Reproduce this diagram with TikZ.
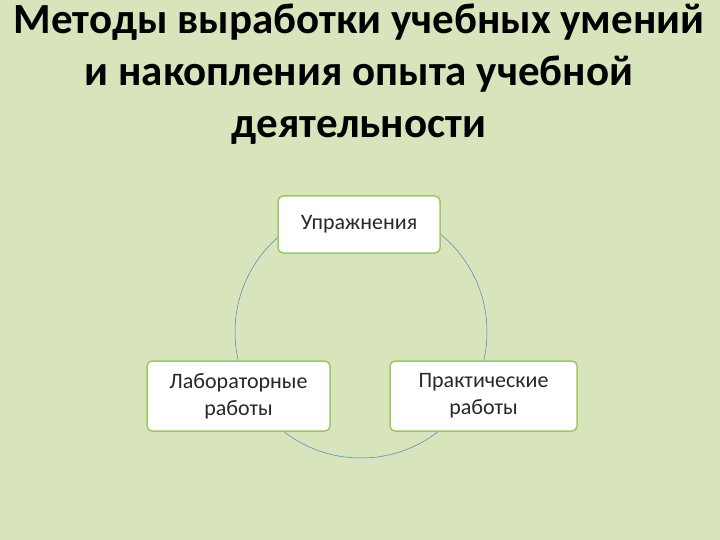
\documentclass[tikz,border=0pt]{standalone}
\usepackage{fontspec}
\setmainfont{Carlito}
\begin{document}
\begin{tikzpicture}[x=1pt,y=-1pt,
  box/.style={draw={rgb,255:red,155;green,200;blue,100}, line width=1.5pt, fill=white, rounded corners=5pt, align=center, text={rgb,255:red,40;green,40;blue,40}, font=\fontsize{22}{27}\selectfont, inner sep=2pt}]
\fill[fill={rgb,255:red,216;green,228;blue,188}] (0,0) rectangle (720,540);
\useasboundingbox (0,0) rectangle (720,540);
\draw[color={rgb,255:red,79;green,129;blue,189}, line width=0.5pt] (361,332) circle[radius=126];
\node[box, minimum width=162pt, minimum height=57pt] (u) at (359,224.5) {Упражнения};
\node[box, minimum width=183pt, minimum height=70pt] (l) at (238.5,396) {Лабораторные\\работы};
\node[box, minimum width=187pt, minimum height=70pt] (p) at (483.5,396) {Практические\\работы};
\node[align=center, font=\bfseries\fontsize{43}{52}\selectfont] (t) at (359,74) {Методы выработки учебных умений\\и накопления опыта учебной\\деятельности};
\end{tikzpicture}
\end{document}
